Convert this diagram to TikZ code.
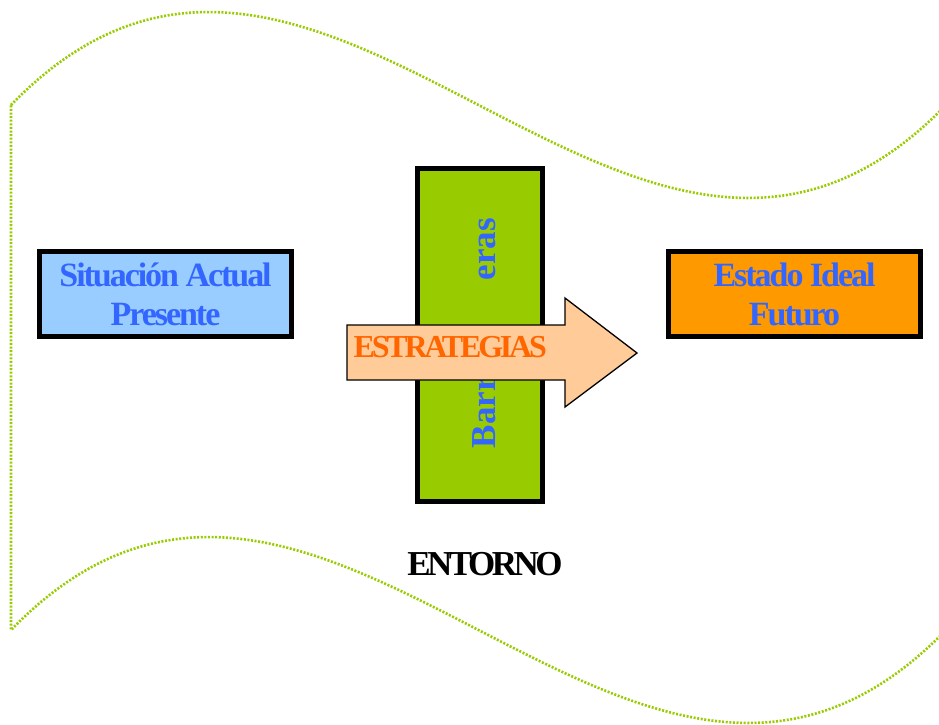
\documentclass[tikz,border=0pt]{standalone}
\usepackage{fontspec}
\setmainfont{Liberation Serif}
\newfontfamily\boxfont[LetterSpace=-6]{Liberation Serif}
\newfontfamily\capsfont[LetterSpace=-10]{Liberation Serif}
\definecolor{leaf}{HTML}{99CC00}
\definecolor{sky}{HTML}{99CCFF}
\definecolor{amber}{HTML}{FF9900}
\definecolor{peach}{HTML}{FFCC99}
\definecolor{ink}{HTML}{3366FF}
\definecolor{flame}{HTML}{FF6600}
\tikzset{
statebox/.style={draw, line width=5pt, minimum width=252pt, minimum height=85pt,
inner sep=0pt, align=center, text=ink, font=\boxfont\bfseries\fontsize{34}{39}\selectfont},
}
\begin{document}
\begin{tikzpicture}
[x=1pt, y=-1pt, line width=1.3pt]
\useasboundingbox (0,0) rectangle (939,724);
\begin{scope}
\clip (0,0) rectangle (939,724);
\draw[leaf, line width=2.6pt, dash pattern=on 2pt off 1.6pt]
(11,105) .. controls (323,-217) and (634,427) .. (946,105) -- (946,630)
.. controls (634,952) and (323,308) .. (11,630) -- cycle;
\end{scope}
\foreach \name/\cx/\col/\txt in {actual/165.5/sky/{Situación Actual\\Presente},
ideal/794.5/amber/{Estado Ideal\\Futuro}}
\node[statebox, fill=\col] (\name) at (\cx,294) {\txt};
\node[draw, line width=5pt, fill=leaf, minimum width=125pt, minimum height=333pt]
(barrier) at (480,335) {};
\node[rotate=90, inner sep=0pt, text=ink, font=\bfseries\fontsize{35}{42}\selectfont]
(barreras) at (484,333) {Barr\hspace{96pt}eras};
\draw[fill=peach] (347,325) -- (565,325) -- (565,298) -- (637,353) -- (565,407)
-- (565,380) -- (347,380) -- cycle;
\node[anchor=base west, inner sep=0pt, text=flame,
font=\capsfont\bfseries\fontsize{32}{38}\selectfont] (estrategias) at (353,357) {ESTRATEGIAS};
\node[anchor=base, inner sep=0pt, font=\capsfont\bfseries\fontsize{35}{42}\selectfont]
(entorno) at (485,575) {ENTORNO};
\end{tikzpicture}
\end{document}
